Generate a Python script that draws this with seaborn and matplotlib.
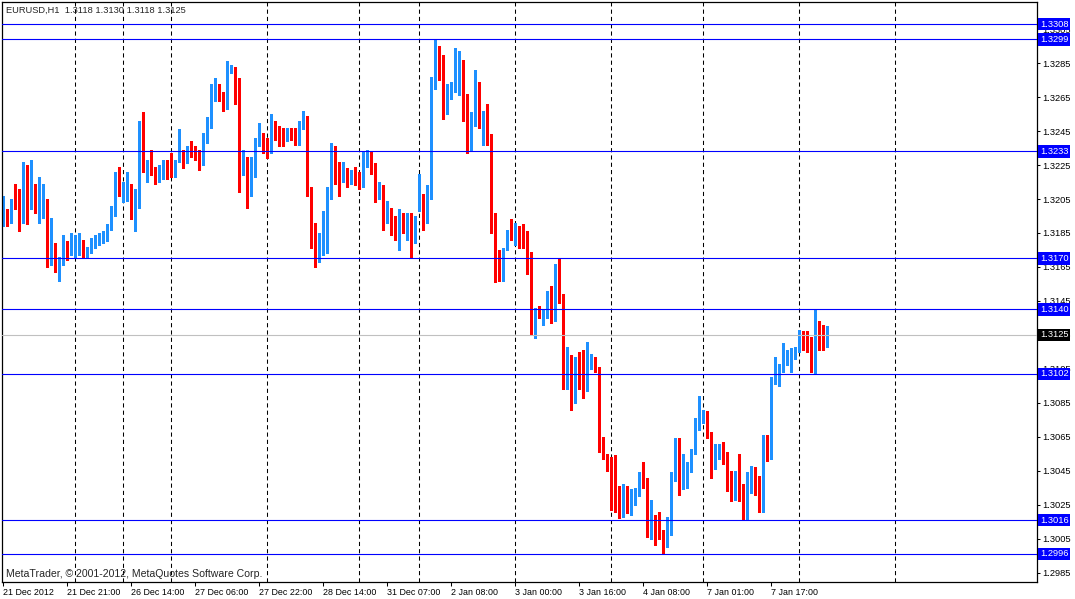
import numpy as np
import pandas as pd
import matplotlib
matplotlib.use("Agg")
import matplotlib.pyplot as plt
import matplotlib.transforms as mtransforms
import seaborn as sns

# EURUSD H1 - velas
opens = [
    1.3192, 1.3197, 1.3192, 1.3202, 1.3202, 1.3196, 1.3217, 1.3200, 1.3210, 1.3199,
    1.3201, 1.3202, 1.3172, 1.3174, 1.3164, 1.3167, 1.3178, 1.3175, 1.3175, 1.3178,
    1.3178, 1.3174, 1.3174, 1.3176, 1.3181, 1.3183, 1.3182, 1.3188, 1.3198, 1.3217,
    1.3210, 1.3210, 1.3213, 1.3202, 1.3201, 1.3250, 1.3221, 1.3227, 1.3224, 1.3216,
    1.3219, 1.3227, 1.3227, 1.3220, 1.3228, 1.3231, 1.3230, 1.3236, 1.3234, 1.3233,
    1.3226, 1.3239, 1.3248, 1.3264, 1.3271, 1.3267, 1.3259, 1.3281, 1.3282, 1.3268,
    1.3222, 1.3227, 1.3210, 1.3225, 1.3237, 1.3238, 1.3236, 1.3235, 1.3249, 1.3246,
    1.3243, 1.3240, 1.3244, 1.3244, 1.3241, 1.3247, 1.3250, 1.3211, 1.3188, 1.3173,
    1.3178, 1.3188, 1.3211, 1.3227, 1.3221, 1.3219, 1.3221, 1.3216, 1.3221, 1.3214,
    1.3215, 1.3225, 1.3230, 1.3225, 1.3210, 1.3213, 1.3196, 1.3199, 1.3191, 1.3191,
    1.3194, 1.3189, 1.3189, 1.3183, 1.3203, 1.3207, 1.3198, 1.3206, 1.3271, 1.3294,
    1.3287, 1.3259, 1.3265, 1.3270, 1.3274, 1.3283, 1.3266, 1.3246, 1.3249, 1.3268,
    1.3247, 1.3254, 1.3241, 1.3196, 1.3170, 1.3164, 1.3176, 1.3187, 1.3186, 1.3188,
    1.3184, 1.3181, 1.3173, 1.3127, 1.3138, 1.3136, 1.3138, 1.3145, 1.3134, 1.3164,
    1.3146, 1.3095, 1.3112, 1.3098, 1.3110, 1.3100, 1.3093, 1.3108, 1.3110, 1.3105,
    1.3061, 1.3054, 1.3049, 1.3037, 1.3023, 1.3019, 1.3035, 1.3023, 1.3029, 1.3033,
    1.3041, 1.3037, 1.3006, 1.3014, 1.3011, 1.3007, 1.3001, 1.3008, 1.3044, 1.3061,
    1.3044, 1.3045, 1.3047, 1.3056, 1.3071, 1.3075, 1.3078, 1.3067, 1.3049, 1.3053,
    1.3054, 1.3055, 1.3037, 1.3034, 1.3039, 1.3034, 1.3023, 1.3036, 1.3042, 1.3034,
    1.3023, 1.3059, 1.3056, 1.3098, 1.3096, 1.3108, 1.3108, 1.3112, 1.3112, 1.3116,
    1.3125, 1.3123, 1.3123, 1.3112, 1.3127, 1.3122, 1.3118,
]
highs = [
    1.3207, 1.3199, 1.3205, 1.3214, 1.3211, 1.3227, 1.3225, 1.3228, 1.3214, 1.3218,
    1.3214, 1.3205, 1.3194, 1.3179, 1.3171, 1.3184, 1.3180, 1.3185, 1.3184, 1.3185,
    1.3181, 1.3177, 1.3182, 1.3184, 1.3185, 1.3186, 1.3190, 1.3201, 1.3221, 1.3224,
    1.3215, 1.3221, 1.3214, 1.3211, 1.3251, 1.3256, 1.3228, 1.3234, 1.3224, 1.3225,
    1.3228, 1.3228, 1.3232, 1.3228, 1.3246, 1.3234, 1.3236, 1.3239, 1.3236, 1.3234,
    1.3244, 1.3253, 1.3273, 1.3276, 1.3273, 1.3268, 1.3286, 1.3284, 1.3283, 1.3276,
    1.3234, 1.3230, 1.3230, 1.3241, 1.3250, 1.3244, 1.3241, 1.3255, 1.3251, 1.3248,
    1.3247, 1.3247, 1.3247, 1.3247, 1.3251, 1.3257, 1.3254, 1.3212, 1.3191, 1.3185,
    1.3198, 1.3212, 1.3238, 1.3236, 1.3227, 1.3227, 1.3223, 1.3222, 1.3224, 1.3221,
    1.3233, 1.3234, 1.3233, 1.3226, 1.3215, 1.3213, 1.3204, 1.3200, 1.3195, 1.3199,
    1.3197, 1.3197, 1.3197, 1.3195, 1.3220, 1.3208, 1.3213, 1.3277, 1.3299, 1.3295,
    1.3290, 1.3273, 1.3274, 1.3294, 1.3292, 1.3287, 1.3267, 1.3256, 1.3281, 1.3274,
    1.3257, 1.3261, 1.3243, 1.3197, 1.3175, 1.3176, 1.3187, 1.3193, 1.3191, 1.3189,
    1.3190, 1.3186, 1.3174, 1.3141, 1.3142, 1.3140, 1.3151, 1.3154, 1.3167, 1.3170,
    1.3149, 1.3118, 1.3113, 1.3112, 1.3115, 1.3116, 1.3121, 1.3114, 1.3112, 1.3106,
    1.3065, 1.3055, 1.3053, 1.3054, 1.3036, 1.3037, 1.3036, 1.3034, 1.3035, 1.3044,
    1.3050, 1.3041, 1.3028, 1.3019, 1.3021, 1.3010, 1.3018, 1.3044, 1.3064, 1.3064,
    1.3055, 1.3050, 1.3058, 1.3076, 1.3089, 1.3081, 1.3080, 1.3068, 1.3061, 1.3061,
    1.3062, 1.3056, 1.3045, 1.3045, 1.3055, 1.3037, 1.3044, 1.3048, 1.3047, 1.3042,
    1.3066, 1.3066, 1.3100, 1.3112, 1.3108, 1.3120, 1.3116, 1.3117, 1.3118, 1.3128,
    1.3127, 1.3127, 1.3124, 1.3140, 1.3133, 1.3131, 1.3130,
]
lows = [
    1.3189, 1.3189, 1.3191, 1.3199, 1.3186, 1.3191, 1.3190, 1.3199, 1.3197, 1.3191,
    1.3194, 1.3165, 1.3166, 1.3162, 1.3157, 1.3166, 1.3169, 1.3172, 1.3171, 1.3172,
    1.3170, 1.3171, 1.3173, 1.3176, 1.3178, 1.3179, 1.3180, 1.3187, 1.3195, 1.3207,
    1.3203, 1.3204, 1.3193, 1.3186, 1.3200, 1.3221, 1.3215, 1.3219, 1.3214, 1.3215,
    1.3217, 1.3217, 1.3218, 1.3218, 1.3227, 1.3223, 1.3226, 1.3230, 1.3228, 1.3222,
    1.3225, 1.3238, 1.3247, 1.3263, 1.3263, 1.3257, 1.3258, 1.3279, 1.3261, 1.3209,
    1.3219, 1.3200, 1.3207, 1.3218, 1.3236, 1.3232, 1.3229, 1.3232, 1.3240, 1.3236,
    1.3236, 1.3239, 1.3240, 1.3237, 1.3237, 1.3246, 1.3207, 1.3176, 1.3165, 1.3168,
    1.3172, 1.3173, 1.3205, 1.3214, 1.3207, 1.3215, 1.3212, 1.3214, 1.3213, 1.3211,
    1.3212, 1.3224, 1.3220, 1.3203, 1.3205, 1.3187, 1.3191, 1.3184, 1.3181, 1.3175,
    1.3185, 1.3181, 1.3171, 1.3179, 1.3198, 1.3187, 1.3191, 1.3205, 1.3270, 1.3275,
    1.3252, 1.3255, 1.3264, 1.3268, 1.3266, 1.3251, 1.3232, 1.3233, 1.3248, 1.3247,
    1.3237, 1.3237, 1.3185, 1.3156, 1.3157, 1.3157, 1.3175, 1.3181, 1.3178, 1.3176,
    1.3176, 1.3161, 1.3125, 1.3123, 1.3135, 1.3131, 1.3135, 1.3132, 1.3133, 1.3144,
    1.3093, 1.3093, 1.3081, 1.3085, 1.3093, 1.3088, 1.3092, 1.3105, 1.3103, 1.3056,
    1.3052, 1.3045, 1.3022, 1.3021, 1.3017, 1.3018, 1.3020, 1.3019, 1.3025, 1.3030,
    1.3035, 1.3006, 1.3005, 1.3001, 1.3005, 1.2996, 1.3000, 1.3007, 1.3039, 1.3031,
    1.3034, 1.3035, 1.3044, 1.3055, 1.3069, 1.3073, 1.3064, 1.3041, 1.3046, 1.3052,
    1.3049, 1.3033, 1.3027, 1.3028, 1.3027, 1.3016, 1.3016, 1.3032, 1.3031, 1.3021,
    1.3021, 1.3051, 1.3052, 1.3096, 1.3095, 1.3103, 1.3107, 1.3103, 1.3111, 1.3115,
    1.3116, 1.3115, 1.3103, 1.3102, 1.3116, 1.3116, 1.3118,
]
closes = [
    1.3198, 1.3193, 1.3204, 1.3201, 1.3200, 1.3217, 1.3201, 1.3208, 1.3200, 1.3201,
    1.3202, 1.3171, 1.3173, 1.3165, 1.3168, 1.3179, 1.3174, 1.3184, 1.3178, 1.3179,
    1.3175, 1.3175, 1.3176, 1.3182, 1.3184, 1.3184, 1.3187, 1.3200, 1.3218, 1.3211,
    1.3211, 1.3214, 1.3203, 1.3203, 1.3249, 1.3222, 1.3227, 1.3222, 1.3217, 1.3218,
    1.3225, 1.3222, 1.3222, 1.3227, 1.3233, 1.3229, 1.3234, 1.3233, 1.3231, 1.3227,
    1.3238, 1.3250, 1.3266, 1.3272, 1.3265, 1.3260, 1.3282, 1.3282, 1.3266, 1.3220,
    1.3227, 1.3209, 1.3227, 1.3237, 1.3240, 1.3236, 1.3234, 1.3247, 1.3246, 1.3241,
    1.3239, 1.3243, 1.3242, 1.3240, 1.3249, 1.3251, 1.3210, 1.3187, 1.3172, 1.3179,
    1.3189, 1.3211, 1.3227, 1.3220, 1.3218, 1.3221, 1.3217, 1.3221, 1.3215, 1.3213,
    1.3227, 1.3228, 1.3226, 1.3209, 1.3214, 1.3197, 1.3198, 1.3190, 1.3190, 1.3194,
    1.3188, 1.3191, 1.3182, 1.3187, 1.3205, 1.3197, 1.3207, 1.3274, 1.3294, 1.3285,
    1.3260, 1.3267, 1.3271, 1.3274, 1.3281, 1.3264, 1.3245, 1.3249, 1.3267, 1.3249,
    1.3256, 1.3239, 1.3194, 1.3168, 1.3165, 1.3175, 1.3184, 1.3185, 1.3190, 1.3183,
    1.3182, 1.3170, 1.3126, 1.3140, 1.3137, 1.3137, 1.3144, 1.3133, 1.3164, 1.3147,
    1.3096, 1.3111, 1.3096, 1.3111, 1.3099, 1.3093, 1.3109, 1.3111, 1.3106, 1.3060,
    1.3054, 1.3048, 1.3038, 1.3022, 1.3018, 1.3034, 1.3022, 1.3030, 1.3032, 1.3037,
    1.3038, 1.3007, 1.3014, 1.3010, 1.3007, 1.3002, 1.3010, 1.3041, 1.3061, 1.3044,
    1.3047, 1.3048, 1.3055, 1.3070, 1.3080, 1.3077, 1.3066, 1.3051, 1.3052, 1.3054,
    1.3053, 1.3038, 1.3036, 1.3041, 1.3032, 1.3024, 1.3037, 1.3041, 1.3032, 1.3024,
    1.3061, 1.3055, 1.3097, 1.3099, 1.3107, 1.3110, 1.3111, 1.3113, 1.3115, 1.3126,
    1.3122, 1.3119, 1.3110, 1.3128, 1.3125, 1.3119, 1.3125,
]

# etiquetas de fecha cada 16 velas
date_labels = ["21 Dec 2012", "21 Dec 21:00", "26 Dec 14:00", "27 Dec 06:00",
               "27 Dec 22:00", "28 Dec 14:00", "31 Dec 07:00", "2 Jan 08:00",
               "3 Jan 00:00", "3 Jan 16:00", "4 Jan 08:00", "7 Jan 01:00",
               "7 Jan 17:00"]
# separadores de dia (indice de vela)
day_breaks = [18, 30, 42, 66, 89, 104, 128, 152, 175, 199, 223]
# niveles horizontales
levels = [1.3308, 1.3299, 1.3233, 1.3170, 1.3140, 1.3102, 1.3016, 1.2996]
bid = 1.3125

sns.set_style("white")
plt.rcParams["font.family"] = ["Liberation Sans", "DejaVu Sans"]
FS = 6.4   # fechas
FP = 6.7   # precios

df = pd.DataFrame({"open": opens, "high": highs, "low": lows, "close": closes})
df["bar"] = np.arange(len(df))
df["up"] = df["close"] >= df["open"]
df["bottom"] = df[["open", "close"]].min(axis=1)
df["height"] = (df["close"] - df["open"]).abs().clip(lower=0.00005)

BLUE = "#1E90FF"
RED = "#FF0000"
colors = np.where(df["up"], BLUE, RED)

W, H = 1075, 599
fig = plt.figure(figsize=(W / 100, H / 100), dpi=100)
ax = fig.add_axes([2 / W, 1 - 582 / H, 1035 / W, 580 / H])

# separadores de dia
for b in day_breaks:
    ax.axvline(b, color="black", lw=0.75, ls=(0, (4, 3)), zorder=1)

# velas
ax.vlines(df["bar"], df["low"], df["high"], colors=colors, lw=0.75,
          antialiased=False, zorder=2)
ax.bar(df["bar"], df["height"], bottom=df["bottom"], width=0.6,
       color=colors, linewidth=0, zorder=2)

# niveles
for lv in levels:
    ax.axhline(lv, color="#0000FF", lw=0.8, zorder=3)
ax.axhline(bid, color="#C0C0C0", lw=0.8, zorder=3)

ax.set_xlim(-0.25, 258.5)
ax.set_ylim(1.29795, 1.33210)

# eje de precios a la derecha
ax.yaxis.tick_right()
yt = np.round(np.arange(1.2985, 1.3306, 0.002), 4)
ax.set_yticks(yt)
ax.set_yticklabels([f"{v:.4f}" for v in yt])
ax.tick_params(axis="y", direction="out", length=2.2, width=0.75, pad=1.8,
               labelsize=FP, colors="black", right=True, left=False)

xt = list(range(0, 16 * len(date_labels), 16))
ax.set_xticks(xt)
ax.set_xticklabels(date_labels, ha="left")
ax.tick_params(axis="x", direction="out", length=3, width=0.75, pad=1.5,
               labelsize=FS, colors="black", bottom=True)

for s in ax.spines.values():
    s.set_color("black")
    s.set_linewidth(0.9)

# etiquetas de nivel en el eje
trans = mtransforms.blended_transform_factory(ax.transAxes, ax.transData)
for lv in levels:
    ax.text(1.0030, lv, f"{lv:.4f}", transform=trans, ha="left", va="center",
            fontsize=FP, color="white", zorder=5, clip_on=False,
            bbox=dict(facecolor="#0000FF", edgecolor="none", pad=1.2))
ax.text(1.0030, bid, f"{bid:.4f}", transform=trans, ha="left", va="center",
        fontsize=FP, color="white", zorder=5, clip_on=False,
        bbox=dict(facecolor="black", edgecolor="none", pad=1.2))

fig.text(6 / W, 1 - 10 / H, "EURUSD,H1  1.3118 1.3130 1.3118 1.3125",
         fontsize=6.7, va="center", ha="left")
fig.text(6 / W, 1 - 574 / H, "MetaTrader, \u00a9 2001-2012, MetaQuotes Software Corp.",
         fontsize=7.6, va="center", ha="left")

fig.savefig("out.png", dpi=100, facecolor="white")
